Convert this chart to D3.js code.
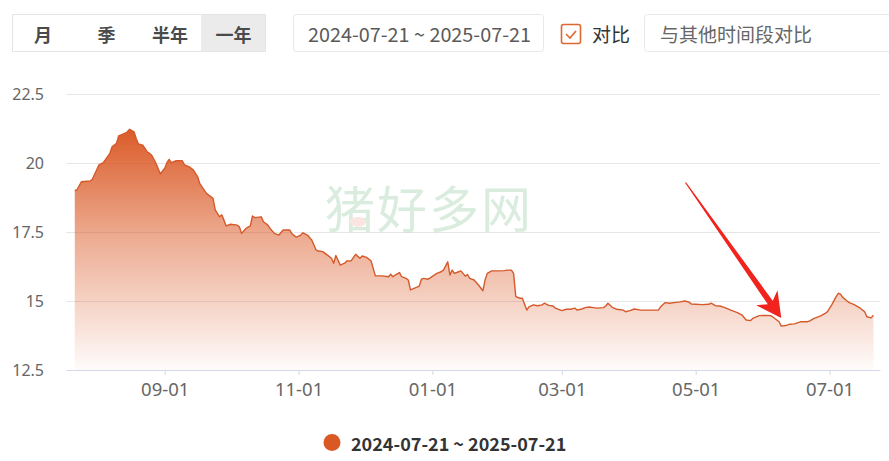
<!DOCTYPE html>
<html>
<head>
<meta charset="utf-8">
<script src="https://cdn.jsdelivr.net/npm/d3@7"></script>
<style>
  body { margin: 0; background: #fff; }
  svg { display: block; font-family: "Noto Sans CJK SC", "Noto Sans", sans-serif; }
</style>
</head>
<body>
<svg id="chart" width="889" height="461"></svg>
<script>
// 日期 和 价格
const dates = [
  "2024-07-22","2024-07-23","2024-07-25","2024-07-29","2024-07-30","2024-08-02","2024-08-04","2024-08-07","2024-08-08","2024-08-10",
  "2024-08-11","2024-08-14","2024-08-15","2024-08-16","2024-08-18","2024-08-19","2024-08-20","2024-08-22","2024-08-24","2024-08-25",
  "2024-08-26","2024-08-28","2024-08-30","2024-09-01","2024-09-02","2024-09-03","2024-09-04","2024-09-06","2024-09-09","2024-09-10",
  "2024-09-12","2024-09-14","2024-09-16","2024-09-17","2024-09-20","2024-09-23","2024-09-24","2024-09-26","2024-09-27","2024-09-28",
  "2024-09-29","2024-10-01","2024-10-04","2024-10-05","2024-10-06","2024-10-08","2024-10-10","2024-10-11","2024-10-12","2024-10-15",
  "2024-10-16","2024-10-18","2024-10-19","2024-10-21","2024-10-23","2024-10-25","2024-10-28","2024-10-29","2024-10-31","2024-11-02",
  "2024-11-03","2024-11-05","2024-11-07","2024-11-09","2024-11-10","2024-11-12","2024-11-14","2024-11-16","2024-11-17","2024-11-18",
  "2024-11-20","2024-11-22","2024-11-23","2024-11-25","2024-11-27","2024-11-29","2024-11-30","2024-12-02","2024-12-04","2024-12-06",
  "2024-12-09","2024-12-12","2024-12-13","2024-12-14","2024-12-15","2024-12-17","2024-12-18","2024-12-20","2024-12-21","2024-12-22",
  "2024-12-25","2024-12-26","2024-12-27","2024-12-28","2024-12-30","2024-12-31","2025-01-03","2025-01-05","2025-01-06","2025-01-08",
  "2025-01-09","2025-01-10","2025-01-11","2025-01-13","2025-01-14","2025-01-16","2025-01-17","2025-01-18","2025-01-20","2025-01-22",
  "2025-01-24","2025-01-25","2025-01-26","2025-01-28","2025-01-31","2025-02-03","2025-02-04","2025-02-06","2025-02-07","2025-02-08",
  "2025-02-10","2025-02-11","2025-02-13","2025-02-14","2025-02-16","2025-02-18","2025-02-20","2025-02-21","2025-02-23","2025-02-25",
  "2025-02-26","2025-03-01","2025-03-03","2025-03-05","2025-03-07","2025-03-08","2025-03-10","2025-03-12","2025-03-14","2025-03-17",
  "2025-03-20","2025-03-21","2025-03-22","2025-03-24","2025-03-26","2025-03-29","2025-03-30","2025-04-01","2025-04-03","2025-04-06",
  "2025-04-09","2025-04-14","2025-04-15","2025-04-17","2025-04-19","2025-04-22","2025-04-24","2025-04-26","2025-04-28","2025-04-29",
  "2025-05-01","2025-05-04","2025-05-07","2025-05-08","2025-05-10","2025-05-12","2025-05-14","2025-05-17","2025-05-20","2025-05-22",
  "2025-05-24","2025-05-26","2025-05-27","2025-05-30","2025-06-02","2025-06-04","2025-06-05","2025-06-08","2025-06-09","2025-06-11",
  "2025-06-13","2025-06-15","2025-06-18","2025-06-21","2025-06-22","2025-06-24","2025-06-27","2025-06-29","2025-06-30","2025-07-02",
  "2025-07-04","2025-07-05","2025-07-06","2025-07-07","2025-07-09","2025-07-10","2025-07-12","2025-07-15","2025-07-17","2025-07-18",
  "2025-07-20","2025-07-21"
];
const prices = [
  19.00,19.03,19.32,19.35,19.41,19.93,20.01,20.35,20.59,20.71,
  20.98,21.08,21.13,21.22,21.13,20.89,20.69,20.65,20.41,20.35,
  20.29,19.99,19.60,19.81,20.01,20.13,20.01,20.08,20.08,19.93,
  19.87,19.75,19.50,19.25,18.90,18.72,18.30,18.05,18.12,17.93,
  17.72,17.78,17.75,17.69,17.45,17.63,17.72,18.08,18.02,18.05,
  17.87,17.75,17.63,17.45,17.39,17.57,17.57,17.43,17.31,17.39,
  17.47,17.39,17.21,16.85,16.81,16.79,16.67,16.55,16.37,16.65,
  16.30,16.37,16.45,16.46,16.69,16.55,16.63,16.58,16.46,15.91,
  15.91,15.88,15.97,15.88,15.94,16.03,15.88,15.82,15.76,15.40,
  15.50,15.54,15.79,15.82,15.79,15.84,16.00,16.06,16.12,16.42,
  15.94,16.12,16.00,16.06,16.09,15.90,15.96,15.82,15.76,15.58,
  15.37,15.76,16.00,16.09,16.09,16.10,16.12,16.12,16.00,15.16,
  15.10,15.10,14.67,14.79,14.86,14.83,14.86,14.92,14.84,14.82,
  14.74,14.65,14.70,14.70,14.74,14.67,14.71,14.77,14.78,14.74,
  14.76,14.82,14.92,14.77,14.70,14.67,14.61,14.65,14.71,14.67,
  14.67,14.67,14.79,14.94,14.92,14.95,14.97,15.00,14.96,14.89,
  14.88,14.87,14.88,14.92,14.83,14.82,14.77,14.67,14.58,14.50,
  14.31,14.29,14.37,14.47,14.48,14.47,14.43,14.25,14.09,14.11,
  14.16,14.17,14.25,14.25,14.28,14.37,14.46,14.55,14.61,14.86,
  15.16,15.28,15.25,15.13,15.00,14.94,14.88,14.74,14.61,14.43,
  14.39,14.49
];
const yTicks = [12.5, 15, 17.5, 20, 22.5];
const xTicks = ["2024-09-01","2024-11-01","2025-01-01","2025-03-01","2025-05-01","2025-07-01"];
const periodTabs = ["月", "季", "半年", "一年"];
const rangeLabel = "2024-07-21 ~ 2025-07-21";

const parse = d3.timeParse("%Y-%m-%d");
const data = dates.map((d, i) => ({date: parse(d), value: prices[i]}));

const svg = d3.select("#chart");
const mainColor = "#da5824";

// ---- 顶部 控件 ----
const gTop = svg.append("g");
const tabW = 63.5;
gTop.append("rect").attr("x", 12.5).attr("y", 14.5).attr("width", 253).attr("height", 37)
  .attr("fill", "#fff").attr("stroke", "#e4e4e4");
gTop.append("rect").attr("x", 201).attr("y", 15).attr("width", 64).attr("height", 36).attr("fill", "#ebebeb");
periodTabs.forEach((t, i) => {
  gTop.append("text").attr("x", 43 + i * tabW).attr("y", 33.5)
    .attr("text-anchor", "middle").attr("dominant-baseline", "central")
    .attr("font-size", 18).attr("font-weight", "bold").attr("fill", "#4a4a4a").text(t);
});
gTop.append("rect").attr("x", 293.5).attr("y", 14.5).attr("width", 250).attr("height", 37)
  .attr("rx", 3).attr("fill", "#fff").attr("stroke", "#e8e8e8");
gTop.append("text").attr("x", 308).attr("y", 33.5).attr("dominant-baseline", "central")
  .attr("font-size", 19.8).attr("fill", "#5a5a5a").text(rangeLabel);
gTop.append("rect").attr("x", 561.5).attr("y", 24.5).attr("width", 19).attr("height", 19)
  .attr("rx", 2).attr("fill", "#fff").attr("stroke", "#e06830").attr("stroke-width", 1.6);
gTop.append("path").attr("d", "M566,34 L570,38 L576,31").attr("fill", "none")
  .attr("stroke", "#e06830").attr("stroke-width", 1.6);
gTop.append("text").attr("x", 592).attr("y", 33.5).attr("dominant-baseline", "central")
  .attr("font-size", 19).attr("fill", "#333").text("对比");
gTop.append("rect").attr("x", 644.5).attr("y", 14.5).attr("width", 260).attr("height", 37)
  .attr("rx", 3).attr("fill", "#fff").attr("stroke", "#e8e8e8");
gTop.append("text").attr("x", 660).attr("y", 33.5).attr("dominant-baseline", "central")
  .attr("font-size", 19).attr("fill", "#666").text("与其他时间段对比");

// ---- 比例尺 ----
const x = d3.scaleTime()
  .domain([parse("2024-07-18"), parse("2025-07-24")])
  .range([66, 880]);
const y = d3.scaleLinear().domain([12.5, 22.5]).range([370, 94]);

// 网格 + y 轴
const gy = svg.append("g").attr("transform", "translate(66,0)")
  .call(d3.axisLeft(y).tickValues(yTicks).tickSize(-814).tickPadding(22)
    .tickFormat(d => d3.format("")(d)));
gy.select(".domain").remove();
gy.selectAll("line").attr("stroke", "#e6e6e6");
gy.selectAll("text").attr("font-size", 16).attr("fill", "#666")
  .attr("font-family", "'Noto Sans', sans-serif");

// 水印
const wm = svg.append("g").attr("opacity", 0.32);
wm.append("text").attr("x", 429).attr("y", 228).attr("text-anchor", "middle")
  .attr("font-size", 50).attr("letter-spacing", 2)
  .attr("fill", "#8cc79c").text("猪好多网");
wm.append("ellipse").attr("cx", 358).attr("cy", 222).attr("rx", 8).attr("ry", 5).attr("fill", "#f4b0a8");

// 渐变
const defs = svg.append("defs");
const grad = defs.append("linearGradient").attr("id", "areaGrad")
  .attr("x1", 0).attr("y1", 0).attr("x2", 0).attr("y2", 1);
grad.append("stop").attr("offset", "0%").attr("stop-color", mainColor).attr("stop-opacity", 0.98);
grad.append("stop").attr("offset", "45%").attr("stop-color", mainColor).attr("stop-opacity", 0.5);
grad.append("stop").attr("offset", "100%").attr("stop-color", mainColor).attr("stop-opacity", 0.02);

const area = d3.area().x(d => x(d.date)).y0(y(12.5)).y1(d => y(d.value));
const line = d3.line().x(d => x(d.date)).y(d => y(d.value));

svg.append("path").datum(data).attr("d", area).attr("fill", "url(#areaGrad)");
svg.append("path").datum(data).attr("d", line).attr("fill", "none")
  .attr("stroke", "#d5592a").attr("stroke-width", 1.4).attr("stroke-linejoin", "round");

// x 轴
const gx = svg.append("g").attr("transform", "translate(0,370)")
  .call(d3.axisBottom(x).tickValues(xTicks.map(parse)).tickSize(5).tickPadding(8)
    .tickFormat(d3.timeFormat("%m-%d")).tickSizeOuter(0));
gx.select(".domain").attr("stroke", "#d5d8e6");
gx.selectAll("line").attr("stroke", "#d5d8e6");
gx.selectAll("text").attr("font-size", 18.5).attr("fill", "#666")
  .attr("font-family", "'Noto Sans', sans-serif");

// 红色 箭头 指向 最低点
const low = data.reduce((a, b) => (b.value < a.value ? b : a));
const tipX = x(low.date), tipY = y(low.value) - 8;
const ang = Math.atan2(136, 96) * 180 / Math.PI;
svg.append("path")
  .attr("transform", "translate(" + tipX + "," + tipY + ") rotate(" + ang + ")")
  .attr("d", "M0,0 L-25,13 L-19,3 L-166,0.6 L-166,-0.6 L-19,-3 L-25,-13 Z")
  .attr("fill", "#f0231d");

// 图例
const lg = svg.append("g");
lg.append("circle").attr("cx", 332).attr("cy", 442.5).attr("r", 8.5).attr("fill", mainColor);
lg.append("text").attr("x", 351).attr("y", 443).attr("dominant-baseline", "central")
  .attr("font-size", 18).attr("font-weight", "bold").attr("fill", "#333").text(rangeLabel);
</script>
</body>
</html>
